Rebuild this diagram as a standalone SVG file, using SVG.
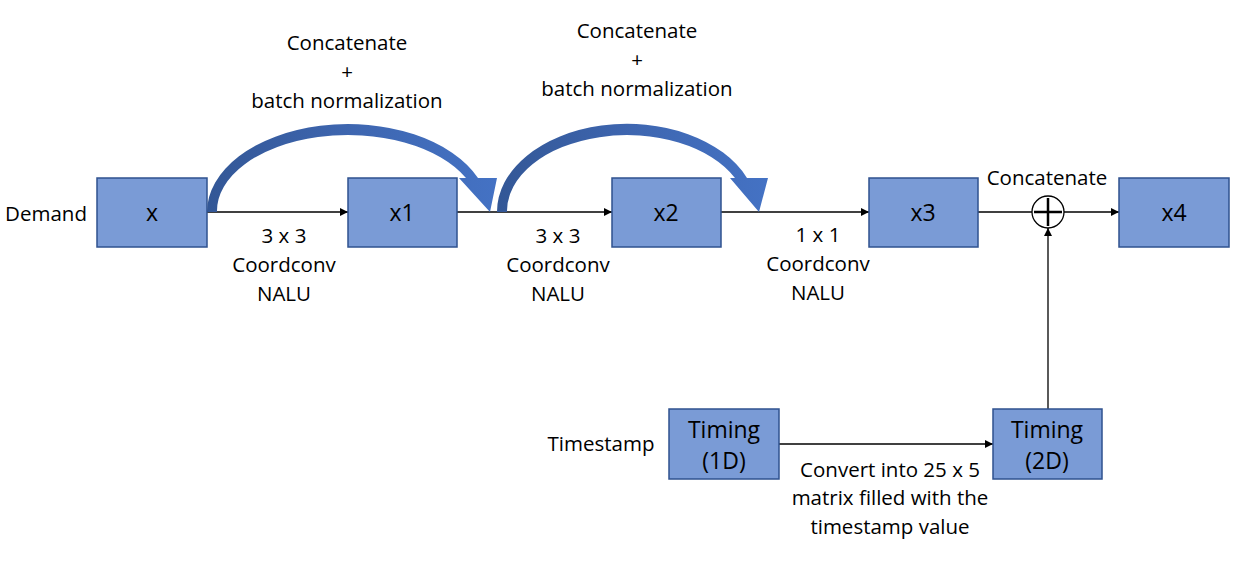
<svg xmlns="http://www.w3.org/2000/svg" width="1245" height="561" viewBox="0 0 1245 561">
<defs>
<style>
.box{fill:#7A9BD6;stroke:#2F528F;stroke-width:1.5}
.t{font-family:"Open Sans","Liberation Sans",sans-serif;fill:#000;text-anchor:middle}
.lab{font-size:20.5px}
.bt{font-size:23px}
.ln{stroke:#000;stroke-width:1.3;fill:none}
</style>
<marker id="ah" viewBox="0 0 10 10" refX="10" refY="5" markerWidth="8" markerHeight="8" markerUnits="userSpaceOnUse" orient="auto">
<path d="M0,0 L10,5 L0,10 Z" fill="#000"/>
</marker>
<linearGradient id="g1" x1="0" y1="0" x2="1" y2="0">
<stop offset="0" stop-color="#335796"/>
<stop offset="0.5" stop-color="#3E66B0"/>
<stop offset="1" stop-color="#4472C4"/>
</linearGradient>
</defs>
<rect width="1245" height="561" fill="#fff"/>
<g id="connectors">
<line class="ln" x1="207" y1="212" x2="348" y2="212" marker-end="url(#ah)"/>
<line class="ln" x1="457" y1="212" x2="612" y2="212" marker-end="url(#ah)"/>
<line class="ln" x1="721" y1="212" x2="869" y2="212" marker-end="url(#ah)"/>
<line class="ln" x1="978" y1="212" x2="1032" y2="212"/>
<line class="ln" x1="1064" y1="212" x2="1119" y2="212" marker-end="url(#ah)"/>
<line class="ln" x1="1048" y1="409" x2="1048" y2="228" marker-end="url(#ah)"/>
<line class="ln" x1="779" y1="444" x2="993" y2="444" marker-end="url(#ah)"/>
<path id="curve1" d="M207,212 A141,88 0 0 1 478,178 L497,178 L490,212 L459,178 L466,178 A131,76 0 0 0 217,212 Z" fill="url(#g1)"/>
<path id="curve2" d="M497,212 A130,88 0 0 1 747,178 L768,178 L759,212 L730,178 L735,178 A120,76 0 0 0 507,212 Z" fill="url(#g1)"/>
</g>
<g id="concat">
<circle cx="1048" cy="212" r="16" fill="#fff" stroke="#000" stroke-width="1.3"/>
<line x1="1034" y1="212" x2="1062" y2="212" stroke="#000" stroke-width="2.5"/>
<line x1="1048" y1="198" x2="1048" y2="226" stroke="#000" stroke-width="2.5"/>
<text class="t lab" x="1047" y="185">Concatenate</text>
</g>
<g id="node-x"><rect class="box" x="97" y="178" width="110" height="69"/><text class="t bt" x="152" y="221">x</text></g>
<g id="node-x1"><rect class="box" x="348" y="178" width="109" height="69"/><text class="t bt" x="402" y="221">x1</text></g>
<g id="node-x2"><rect class="box" x="612" y="178" width="109" height="69"/><text class="t bt" x="666" y="221">x2</text></g>
<g id="node-x3"><rect class="box" x="869" y="178" width="109" height="69"/><text class="t bt" x="923" y="221">x3</text></g>
<g id="node-x4"><rect class="box" x="1119" y="178" width="110" height="69"/><text class="t bt" x="1174" y="221">x4</text></g>
<g id="node-t1"><rect class="box" x="669" y="409" width="110" height="70"/><text class="t bt" x="724" y="438">Timing</text><text class="t bt" x="724" y="469">(1D)</text></g>
<g id="node-t2"><rect class="box" x="993" y="409" width="109" height="70"/><text class="t bt" x="1047" y="438">Timing</text><text class="t bt" x="1047" y="469">(2D)</text></g>
<g id="labels">
<text class="t lab" x="46" y="221">Demand</text>
<text class="t lab" x="601" y="451">Timestamp</text>
<text class="t lab" x="284" y="243">3 x 3</text>
<text class="t lab" x="284" y="272">Coordconv</text>
<text class="t lab" x="284" y="301">NALU</text>
<text class="t lab" x="558" y="243">3 x 3</text>
<text class="t lab" x="558" y="272">Coordconv</text>
<text class="t lab" x="558" y="301">NALU</text>
<text class="t lab" x="818" y="242">1 x 1</text>
<text class="t lab" x="818" y="271">Coordconv</text>
<text class="t lab" x="818" y="300">NALU</text>
<text class="t lab" x="347" y="50">Concatenate</text>
<text class="t lab" x="347" y="79">+</text>
<text class="t lab" x="347" y="108">batch normalization</text>
<text class="t lab" x="637" y="38">Concatenate</text>
<text class="t lab" x="637" y="67">+</text>
<text class="t lab" x="637" y="96">batch normalization</text>
<text class="t lab" x="890" y="477">Convert into 25 x 5</text>
<text class="t lab" x="890" y="505">matrix filled with the</text>
<text class="t lab" x="890" y="534">timestamp value</text>
</g>
</svg>
